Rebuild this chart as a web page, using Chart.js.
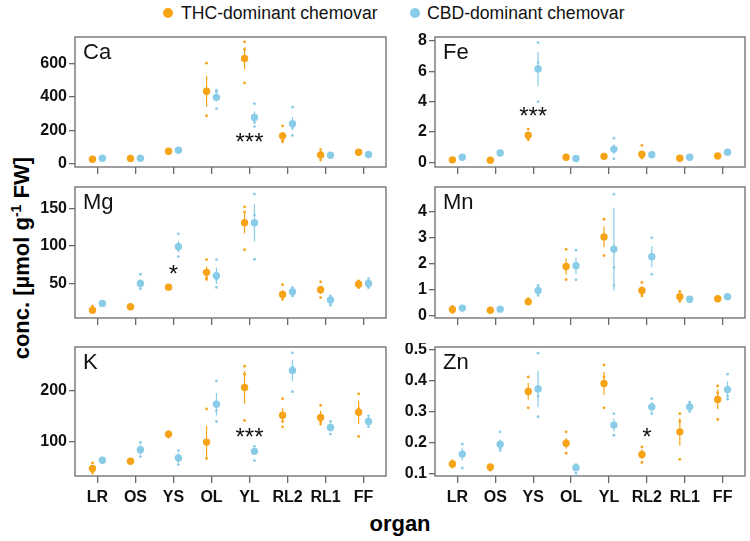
<!DOCTYPE html>
<html>
<head>
<meta charset="utf-8">
<script src="https://cdn.jsdelivr.net/npm/chart.js@4/dist/chart.umd.min.js"></script>
<style>
body { margin: 0; background: #fff; }
#wrap { position: relative; width: 750px; height: 541px; overflow: hidden; font-family: "Liberation Sans", Arial, sans-serif; }
#wrap canvas { position: absolute; }
.ldot { position: absolute; top: 8px; width: 10px; height: 10px; border-radius: 50%; }
.ltxt { position: absolute; top: 3px; font-size: 17.6px; line-height: 20px; color: #111; white-space: nowrap; }
#ytitle { position: absolute; left: -131px; top: 242px; width: 300px; text-align: center; font-size: 22px; font-weight: bold; line-height: 26px; transform: rotate(-90deg); white-space: nowrap; }
#ytitle sup { font-size: 14px; }
#xtitle { position: absolute; left: 300px; top: 511px; width: 200px; text-align: center; font-size: 22px; font-weight: bold; line-height: 26px; }
</style>
</head>
<body>
<div id="wrap">
  <div id="ytitle">conc. [µmol g<sup>-1</sup> FW]</div>
  <div id="xtitle">organ</div>
</div>
<script>
const organs = ['LR', 'OS', 'YS', 'OL', 'YL', 'RL2', 'RL1', 'FF'];
const seriesNames = ['THC-dominant chemovar', 'CBD-dominant chemovar'];
const thcColor = '#F6A318';
const cbdColor = '#89CCE8';

// Ca
const caThc = [25, 30, 73, 435, 633, 166, 51, 67];
const caCbd = [31, 31, 79, 398, 277, 239, 49, 53];
const caThcErr = [3, 3, 4, 94, 67, 23, 22, 5];
const caCbdErr = [3, 3, 5, 25, 35, 40, 3, 4];
const caThcPts = [[22, 25, 28, 27], [27, 30, 33, 30], [68, 73, 78, 72], [604, 287, 420, 430], [733, 687, 485, 628], [226, 138, 130, 170], [83, 20, 50, 52], [62, 67, 72, 67]];
const caCbdPts = [[28, 31, 34, 30], [28, 31, 34, 32], [74, 79, 84, 78], [441, 431, 330, 390], [360, 247, 222, 280], [339, 214, 168, 236], [44, 49, 54, 49], [48, 53, 58, 53]];
const caTicks = [0, 200, 400, 600];

// Fe
const feThc = [0.17, 0.15, 1.79, 0.34, 0.40, 0.54, 0.28, 0.43];
const feCbd = [0.34, 0.62, 6.16, 0.26, 0.88, 0.51, 0.34, 0.67];
const feThcErr = [0.05, 0.05, 0.19, 0.05, 0.05, 0.19, 0.05, 0.05];
const feCbdErr = [0.05, 0.05, 1.13, 0.05, 0.32, 0.05, 0.05, 0.05];
const feThcPts = [[0.15, 0.17, 0.19, 0.17], [0.13, 0.15, 0.17, 0.15], [2.2, 1.49, 1.65, 1.8], [0.3, 0.34, 0.38, 0.34], [0.36, 0.4, 0.44, 0.4], [1.12, 0.3, 0.4, 0.35], [0.25, 0.28, 0.31, 0.28], [0.4, 0.43, 0.46, 0.43]];
const feCbdPts = [[0.3, 0.34, 0.38, 0.34], [0.58, 0.62, 0.66, 0.62], [7.89, 6.57, 4.0, 6.2], [0.22, 0.26, 0.3, 0.26], [1.6, 0.25, 0.8, 0.85], [0.47, 0.51, 0.55, 0.51], [0.3, 0.34, 0.38, 0.34], [0.63, 0.67, 0.71, 0.67]];
const feTicks = [0, 2, 4, 6, 8];

// Mg
const mgThc = [14, 18.5, 44.7, 64.5, 130.8, 35, 41.2, 48.7];
const mgCbd = [23, 49.6, 98.7, 60, 130.8, 38.6, 27.6, 49.6];
const mgThcErr = [3.3, 1.5, 1.5, 7.7, 14.3, 5.5, 5.5, 3];
const mgCbdErr = [1.5, 5.5, 7.2, 11, 25, 5.5, 5.3, 3];
const mgThcPts = [[19.3, 11, 13, 13], [17, 18.5, 20, 18.5], [43, 44.7, 46, 45], [81.6, 55, 57, 65], [152, 145, 94.7, 131], [48, 28.5, 32, 33], [51.8, 30.8, 41, 41], [53, 44, 48, 49]];
const mgCbdPts = [[21, 23, 25, 23], [62, 42.6, 47, 47], [116, 85.5, 95, 98], [81.6, 44.3, 55, 59], [169, 141, 82, 131], [44, 33, 38, 39], [33, 20.6, 28, 29], [56, 44, 50, 50]];
const mgTicks = [50, 100, 150];

// Mn
const mnThc = [0.24, 0.21, 0.54, 1.89, 3.03, 0.97, 0.73, 0.65];
const mnCbd = [0.29, 0.25, 0.97, 1.92, 2.56, 2.27, 0.63, 0.73];
const mnThcErr = [0.1, 0.03, 0.08, 0.32, 0.4, 0.16, 0.14, 0.05];
const mnCbdErr = [0.03, 0.03, 0.15, 0.32, 1.59, 0.41, 0.03, 0.03];
const mnThcPts = [[0.36, 0.12, 0.22, 0.24], [0.18, 0.21, 0.24, 0.21], [0.65, 0.5, 0.5, 0.52], [2.55, 1.39, 1.8, 1.8], [3.71, 2.31, 3.0, 3.1], [1.28, 0.76, 0.85, 0.98], [0.93, 0.55, 0.7, 0.73], [0.72, 0.58, 0.65, 0.65]];
const mnCbdPts = [[0.27, 0.3, 0.3, 0.29], [0.22, 0.25, 0.28, 0.25], [1.16, 0.78, 0.95, 0.98], [2.52, 1.38, 1.9, 1.9], [4.67, 1.86, 1.17, 2.55], [3.0, 1.59, 2.2, 2.3], [0.6, 0.63, 0.66, 0.63], [0.7, 0.73, 0.76, 0.73]];
const mnTicks = [0, 1, 2, 3, 4];

// K
const kThc = [48.5, 62.7, 115.5, 100, 206.4, 152.2, 147.8, 158];
const kCbd = [64.6, 85.2, 69, 173.5, 82, 239.3, 128.4, 140];
const kThcErr = [6.5, 2, 4, 31.6, 32, 14, 13, 23];
const kCbdErr = [2, 9.7, 9.7, 22, 6.5, 21, 8, 8.7];
const kThcPts = [[59.4, 40, 47, 48], [60, 62.7, 65, 63], [120, 110, 115, 117], [164.6, 67.9, 98, 100], [247.7, 232, 142, 204], [184.5, 140, 129.7, 155], [171.6, 135, 140, 145], [193.6, 111, 165, 162]];
const kCbdPts = [[62, 64.6, 67, 65], [99.4, 71.7, 85, 85], [83.3, 56.3, 68, 69], [219, 161, 140, 174], [91.7, 64, 82, 82], [273.5, 198, 240, 246], [140, 115.5, 128, 130], [151, 130, 140, 139]];
const kTicks = [100, 200];

// Zn
const znThc = [0.13, 0.12, 0.365, 0.197, 0.391, 0.161, 0.234, 0.339];
const znCbd = [0.162, 0.194, 0.373, 0.118, 0.256, 0.315, 0.315, 0.371];
const znThcErr = [0.008, 0.008, 0.027, 0.017, 0.037, 0.016, 0.045, 0.032];
const znCbdErr = [0.021, 0.015, 0.059, 0.01, 0.021, 0.016, 0.01, 0.027];
const znThcPts = [[0.14, 0.12, 0.13, 0.135], [0.125, 0.11, 0.12, 0.12], [0.412, 0.312, 0.37, 0.37], [0.234, 0.165, 0.19, 0.2], [0.451, 0.412, 0.312, 0.39], [0.185, 0.135, 0.16, 0.16], [0.293, 0.268, 0.145, 0.23], [0.383, 0.36, 0.274, 0.34]];
const znCbdPts = [[0.194, 0.117, 0.165, 0.17], [0.234, 0.174, 0.18, 0.19], [0.489, 0.35, 0.283, 0.37], [0.128, 0.1, 0.115, 0.12], [0.293, 0.223, 0.25, 0.26], [0.342, 0.293, 0.31, 0.315], [0.33, 0.3, 0.31, 0.32], [0.421, 0.35, 0.34, 0.37]];
const znTicks = [0.1, 0.2, 0.3, 0.4, 0.5];

// significance marks: organ, text, height in data units
const caSig = [['YL', '***', 150]];
const feSig = [['YS', '***', 3.35]];
const mgSig = [['YS', '*', 68]];
const mnSig = [];
const kSig = [['YL', '***', 117]];
const znSig = [['RL2', '*', 0.23]];

const panels = [
  { name: 'Ca', thc: caThc, cbd: caCbd, thcErr: caThcErr, cbdErr: caCbdErr, thcPts: caThcPts, cbdPts: caCbdPts, ticks: caTicks, sig: caSig, min: -22, max: 762, col: 0, row: 0 },
  { name: 'Fe', thc: feThc, cbd: feCbd, thcErr: feThcErr, cbdErr: feCbdErr, thcPts: feThcPts, cbdPts: feCbdPts, ticks: feTicks, sig: feSig, min: -0.3, max: 8.26, col: 1, row: 0 },
  { name: 'Mg', thc: mgThc, cbd: mgCbd, thcErr: mgThcErr, cbdErr: mgCbdErr, thcPts: mgThcPts, cbdPts: mgCbdPts, ticks: mgTicks, sig: mgSig, min: 3.5, max: 178.5, col: 0, row: 1 },
  { name: 'Mn', thc: mnThc, cbd: mnCbd, thcErr: mnThcErr, cbdErr: mnCbdErr, thcPts: mnThcPts, cbdPts: mnCbdPts, ticks: mnTicks, sig: mnSig, min: -0.09, max: 4.95, col: 1, row: 1 },
  { name: 'K', thc: kThc, cbd: kCbd, thcErr: kThcErr, cbdErr: kCbdErr, thcPts: kThcPts, cbdPts: kCbdPts, ticks: kTicks, sig: kSig, min: 34, max: 285, col: 0, row: 2 },
  { name: 'Zn', thc: znThc, cbd: znCbd, thcErr: znThcErr, cbdErr: znCbdErr, thcPts: znThcPts, cbdPts: znCbdPts, ticks: znTicks, sig: znSig, min: 0.091, max: 0.509, col: 1, row: 2 }
];

// plot box positions
const colBox = [[75, 313], [435, 312]];
const rowBox = [[35, 132], [185, 133], [345, 131]];
const yAxisW = 60;
const off = 0.13;
const font = '"Liberation Sans", Arial, sans-serif';

// legend
const wrap = document.getElementById('wrap');
[[163, 181, thcColor], [410, 427, cbdColor]].forEach((p, i) => {
  const d = document.createElement('span');
  d.className = 'ldot'; d.style.left = p[0] + 'px'; d.style.background = p[2];
  wrap.appendChild(d);
  const t = document.createElement('span');
  t.className = 'ltxt'; t.style.left = p[1] + 'px'; t.textContent = seriesNames[i];
  wrap.appendChild(t);
});

function meanData(means, dx) {
  return means.map((v, i) => ({ x: i + dx, y: v }));
}
function errData(means, errs, dx) {
  const d = [];
  means.forEach((v, i) => {
    d.push({ x: i + dx, y: v - errs[i] }, { x: i + dx, y: v + errs[i] }, { x: i + dx, y: null });
  });
  return d;
}
function ptsData(pts, dx) {
  const d = [];
  pts.forEach((arr, i) => arr.forEach(v => d.push({ x: i + dx, y: v })));
  return d;
}

const boxPlugin = {
  id: 'box',
  afterDraw(chart) {
    const { ctx, chartArea: a, scales } = chart;
    const p = chart.options.plugins.box;
    ctx.save();
    ctx.strokeStyle = '#6a6a6a';
    ctx.lineWidth = 1.3;
    ctx.strokeRect(a.left, a.top, a.right - a.left, a.bottom - a.top);
    ctx.fillStyle = '#111';
    ctx.font = '22px ' + font;
    ctx.textBaseline = 'alphabetic';
    ctx.fillText(p.name, a.left + 8, a.top + 22);
    ctx.font = '24px ' + font;
    ctx.textAlign = 'center';
    p.sig.forEach(s => {
      const x = scales.x.getPixelForValue(organs.indexOf(s[0]));
      const y = scales.y.getPixelForValue(s[2]);
      ctx.fillText(s[1], x, y + 12);
    });
    ctx.restore();
  }
};

panels.forEach(p => {
  const bottom = p.row === 2;
  const xH = bottom ? 40 : 10;
  const [bx, bw] = colBox[p.col];
  const [by, bh] = rowBox[p.row];
  const canvas = document.createElement('canvas');
  canvas.width = yAxisW + bw + 2;
  canvas.height = 2 + bh + xH;
  canvas.style.left = (bx - yAxisW) + 'px';
  canvas.style.top = (by - 2) + 'px';
  wrap.appendChild(canvas);

  new Chart(canvas, {
    type: 'scatter',
    data: {
      datasets: [
        { data: meanData(p.thc, -off), backgroundColor: thcColor, borderWidth: 0, pointRadius: 3.7, order: 0 },
        { data: meanData(p.cbd, off), backgroundColor: cbdColor, borderWidth: 0, pointRadius: 3.7, order: 0 },
        { data: errData(p.thc, p.thcErr, -off), showLine: true, spanGaps: false, borderColor: thcColor, borderWidth: 1.2, pointRadius: 0, order: 1 },
        { data: errData(p.cbd, p.cbdErr, off), showLine: true, spanGaps: false, borderColor: cbdColor, borderWidth: 1.2, pointRadius: 0, order: 1 },
        { data: ptsData(p.thcPts, -off), backgroundColor: thcColor, borderWidth: 0, pointRadius: 1.4, order: 2 },
        { data: ptsData(p.cbdPts, off), backgroundColor: cbdColor, borderWidth: 0, pointRadius: 1.4, order: 2 }
      ]
    },
    options: {
      responsive: false,
      animation: false,
      devicePixelRatio: 1,
      layout: { padding: { top: 2, right: 2, left: 0, bottom: 0 } },
      plugins: {
        legend: { display: false },
        tooltip: { enabled: false },
        box: { name: p.name, sig: p.sig }
      },
      scales: {
        x: {
          type: 'linear',
          min: -0.59,
          max: 7.59,
          afterBuildTicks: s => { s.ticks = organs.map((o, i) => ({ value: i })); },
          afterFit: s => { s.height = xH; s.paddingLeft = 0; s.paddingRight = 0; },
          ticks: {
            display: bottom,
            autoSkip: false,
            maxRotation: 0,
            padding: 5,
            color: '#111',
            font: { family: font, size: 16, weight: 'bold' },
            callback: v => organs[v]
          },
          grid: { drawOnChartArea: false, tickLength: 7, color: '#6a6a6a', lineWidth: 1.3 },
          border: { display: false }
        },
        y: {
          min: p.min,
          max: p.max,
          afterBuildTicks: s => { s.ticks = p.ticks.map(v => ({ value: v })); },
          afterFit: s => { s.width = yAxisW; s.paddingTop = 0; s.paddingBottom = 0; },
          ticks: {
            padding: 2,
            color: '#111',
            font: { family: font, size: 16, weight: 'bold' },
            callback: v => String(v)
          },
          grid: { drawOnChartArea: false, tickLength: 6, color: '#6a6a6a', lineWidth: 1.3 },
          border: { display: false }
        }
      }
    },
    plugins: [boxPlugin]
  });
});
</script>
</body>
</html>
